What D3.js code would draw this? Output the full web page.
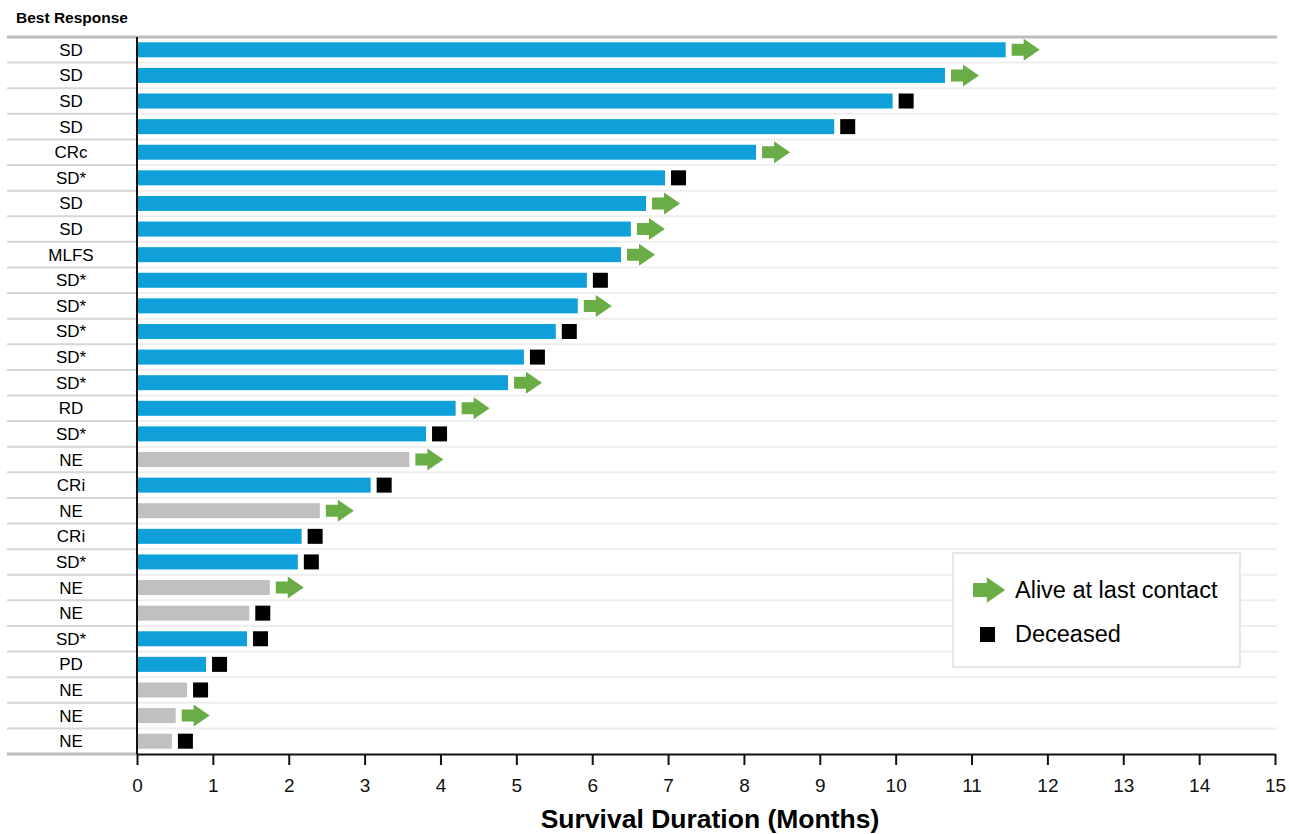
<!DOCTYPE html>
<html>
<head>
<meta charset="utf-8">
<script src="https://cdn.jsdelivr.net/npm/d3@7"></script>
<style>
  body { margin: 0; background: #fff; }
  text { font-family: "Liberation Sans", Arial, sans-serif; }
</style>
</head>
<body>
<svg id="chart" width="1289" height="834"></svg>
<script>
// best response per patient, top to bottom
const responses = ["SD", "SD", "SD", "SD", "CRc", "SD*", "SD", "SD", "MLFS", "SD*", "SD*", "SD*", "SD*", "SD*",
  "RD", "SD*", "NE", "CRi", "NE", "CRi", "SD*", "NE", "NE", "SD*", "PD", "NE", "NE", "NE"];
// survival duration in months
const months = [11.45, 10.65, 9.96, 9.19, 8.16, 6.96, 6.71, 6.51, 6.38, 5.93, 5.81, 5.52, 5.10, 4.89,
  4.20, 3.81, 3.59, 3.08, 2.41, 2.17, 2.12, 1.75, 1.48, 1.45, 0.91, 0.66, 0.51, 0.46];
// A = alive at last contact, D = deceased
const status = ["A", "A", "D", "D", "A", "D", "A", "A", "A", "D", "A", "D", "D", "A",
  "A", "D", "A", "D", "A", "D", "D", "A", "D", "D", "D", "D", "A", "D"];
const xTicks = [0, 1, 2, 3, 4, 5, 6, 7, 8, 9, 10, 11, 12, 13, 14, 15];
const legendLabels = ["Alive at last contact", "Deceased"];

const blue = "#0fa0da", grey = "#c1c0c0", green = "#6aac46";
const margin = {top: 37, left: 137};
const svg = d3.select("#chart");

const rows = responses.map((r, i) => ({i: i, resp: r, m: months[i], st: status[i]}));

const x = d3.scaleLinear().domain([0, 15]).range([margin.left, 1275]);
const y = d3.scaleBand().domain(d3.range(rows.length)).range([margin.top, 754]);

// header
svg.append("text").attr("x", 16).attr("y", 23)
  .style("font-size", "15.5px").attr("font-weight", "bold").text("Best Response");

// row separators
const seps = d3.range(1, rows.length);
svg.append("g").selectAll("line").data(seps).enter().append("line")
  .attr("x1", 7).attr("x2", margin.left)
  .attr("y1", d => y(d)).attr("y2", d => y(d))
  .attr("stroke", "#d6d6d6").attr("stroke-width", 2);
svg.append("g").selectAll("line").data(seps).enter().append("line")
  .attr("x1", margin.left).attr("x2", 1277)
  .attr("y1", d => y(d)).attr("y2", d => y(d))
  .attr("stroke", "#eeeeee").attr("stroke-width", 2);

// top and bottom rules
svg.append("line").attr("x1", 7).attr("x2", 1277).attr("y1", margin.top).attr("y2", margin.top)
  .attr("stroke", "#bcbcbc").attr("stroke-width", 3);
svg.append("line").attr("x1", 7).attr("x2", margin.left).attr("y1", 754).attr("y2", 754)
  .attr("stroke", "#bcbcbc").attr("stroke-width", 3);

// response labels
svg.append("g").selectAll("text").data(rows).enter().append("text")
  .attr("x", 71).attr("y", d => y(d.i) + y.bandwidth() / 2 + 6)
  .attr("text-anchor", "middle").style("font-size", "17px").text(d => d.resp);

// bars
const bh = 15;
svg.append("g").selectAll("rect").data(rows).enter().append("rect")
  .attr("x", x(0) + 1).attr("y", d => y(d.i) + y.bandwidth() / 2 - bh / 2)
  .attr("width", d => x(d.m) - x(0) - 1).attr("height", bh)
  .attr("fill", d => d.resp === "NE" ? grey : blue);

// arrow shape, origin at the left middle
function arrowPath(x0, cy, s) {
  s = s || 1;
  return `M${x0},${cy - 6 * s}H${x0 + 12 * s}V${cy - 11 * s}L${x0 + 28 * s},${cy}` +
    `L${x0 + 12 * s},${cy + 11 * s}V${cy + 6 * s}H${x0}Z`;
}

const marks = svg.append("g");
rows.forEach(d => {
  const cy = y(d.i) + y.bandwidth() / 2;
  const x0 = x(d.m) + 6;
  if (d.st === "A") {
    marks.append("path").attr("d", arrowPath(x0, cy)).attr("fill", green);
  } else {
    marks.append("rect").attr("x", x0).attr("y", cy - 7.5)
      .attr("width", 15).attr("height", 15).attr("fill", "#000");
  }
});

// vertical zero line
svg.append("line").attr("x1", x(0)).attr("x2", x(0)).attr("y1", margin.top).attr("y2", 754)
  .attr("stroke", "#111").attr("stroke-width", 2);

// x axis
const xAxis = d3.axisBottom(x).tickValues(xTicks).tickSize(11).tickPadding(14).tickSizeOuter(0);
const gx = svg.append("g").attr("transform", "translate(0,754)").call(xAxis);
gx.select(".domain").attr("stroke", "#111").attr("stroke-width", 2);
gx.selectAll(".tick line").attr("stroke", "#111").attr("stroke-width", 2);
gx.selectAll(".tick text").style("font-size", "19px").attr("fill", "#111")
  .style("font-family", "Liberation Sans, Arial, sans-serif");

svg.append("text").attr("x", 710).attr("y", 828).attr("text-anchor", "middle")
  .style("font-size", "26.5px").attr("font-weight", "bold").text("Survival Duration (Months)");

// legend
const lg = svg.append("g");
lg.append("rect").attr("x", 953).attr("y", 553).attr("width", 287).attr("height", 114)
  .attr("fill", "#fff").attr("stroke", "#e6e6e6").attr("stroke-width", 2);
lg.append("path").attr("d", arrowPath(973, 590, 1.15)).attr("fill", green);
lg.append("rect").attr("x", 980).attr("y", 627).attr("width", 15).attr("height", 15).attr("fill", "#000");
lg.selectAll("text").data(legendLabels).enter().append("text")
  .attr("x", 1015).attr("y", (d, i) => 598 + i * 44)
  .style("font-size", "23.5px").text(d => d);
</script>
</body>
</html>
